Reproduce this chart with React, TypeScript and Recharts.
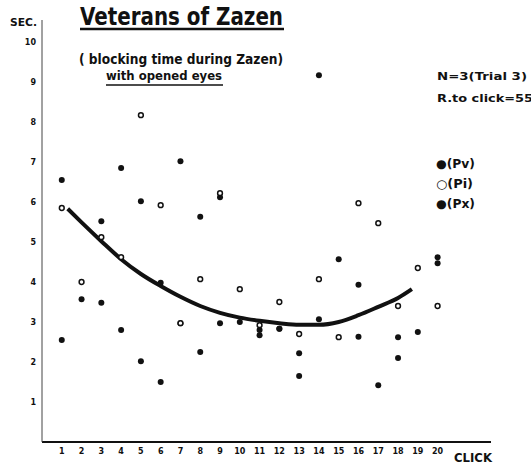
import { ScatterChart, Scatter, XAxis, YAxis } from 'recharts'

// click number (x) and blocking time in sec. (y)
const clicks = [1, 2, 3, 4, 5, 6, 7, 8, 9, 10, 11, 12, 13, 14, 15, 16, 17, 18, 19, 20]
const secTicks = [1, 2, 3, 4, 5, 6, 7, 8, 9, 10]

const pvValues = [6.55, 3.57, 5.52, 6.85, 6.02, 3.98, 7.02, 5.63, 6.12, 3.0, 2.8, 2.83, 2.22, 9.17, 4.57, 3.93, 1.42, 2.62, 2.75, 4.62]
const piValues = [5.85, 4.0, 5.12, 4.62, 8.17, 5.92, 2.97, 4.07, 6.22, 3.82, 2.92, 3.5, 2.7, 4.07, 2.62, 5.97, 5.47, 3.4, 4.35, 3.4]
const pxValues = [2.55, null, 3.48, 2.8, 2.02, 1.5, 2.97, 2.25, 2.97, null, 2.67, 2.83, 1.65, 3.07, null, 2.63, null, 2.1, null, 4.47]

// hand-drawn trend curve
const curveX = [1.3, 2, 3, 4, 5, 6, 7, 8, 9, 10, 11, 12, 13, 14, 15, 16, 17, 18, 18.7]
const curveY = [5.83, 5.49, 5.02, 4.57, 4.2, 3.9, 3.63, 3.4, 3.23, 3.11, 3.03, 2.97, 2.93, 2.93, 3.0, 3.17, 3.38, 3.6, 3.82]

const toPoints = (vals: (number | null)[]) =>
  clicks.map((c, i) => ({ x: c, y: vals[i] })).filter((p) => p.y !== null)

const pvData = toPoints(pvValues)
const piData = toPoints(piValues)
const pxData = toPoints(pxValues)
const curveData = curveX.map((x, i) => ({ x, y: curveY[i] }))

const INK = '#111'
const FONT = '"DejaVu Sans", sans-serif'

const FilledDot = (p: any) => <circle cx={p.cx} cy={p.cy} r={3} fill={INK} />
const OpenDot = (p: any) => <circle cx={p.cx} cy={p.cy} r={2.4} fill="#fff" stroke={INK} strokeWidth={1.5} />
const NoDot = () => <g />

const tickStyle = { fill: INK, fontSize: 8, fontWeight: 700, fontFamily: FONT }

export default function App() {
  return (
    <div style={{ position: 'absolute', left: 0, top: 0, width: 531, height: 464, background: '#fff' }}>
      <ScatterChart width={531} height={464} margin={{ top: 20, right: 40, bottom: 2, left: 0 }}>
        <XAxis
          type="number"
          dataKey="x"
          domain={[0, 22.7]}
          ticks={clicks}
          interval={0}
          allowDataOverflow
          height={20}
          tickLine={false}
          tickSize={0}
          tickMargin={6}
          axisLine={{ stroke: INK, strokeWidth: 2 }}
          tick={tickStyle}
        />
        <YAxis
          type="number"
          dataKey="y"
          domain={[0, 10.55]}
          ticks={secTicks}
          interval={0}
          allowDataOverflow
          width={42}
          tickLine={false}
          tickSize={0}
          tickMargin={6}
          axisLine={{ stroke: '#444', strokeWidth: 1 }}
          tick={tickStyle}
        />
        <Scatter
          data={curveData}
          line={{ stroke: INK, strokeWidth: 4 }}
          lineJointType="monotoneX"
          shape={NoDot}
          isAnimationActive={false}
        />
        <Scatter data={pvData} shape={FilledDot} isAnimationActive={false} />
        <Scatter data={pxData} shape={FilledDot} isAnimationActive={false} />
        <Scatter data={piData} shape={OpenDot} isAnimationActive={false} />
      </ScatterChart>

      <svg
        width={531}
        height={464}
        style={{ position: 'absolute', left: 0, top: 0, pointerEvents: 'none' }}
        fontFamily={FONT}
        fontWeight={700}
        fill={INK}
      >
        <text x={10} y={26} fontSize={10} textLength={27} lengthAdjust="spacingAndGlyphs">SEC.</text>

        <text x={80} y={25} fontSize={24} textLength={203} lengthAdjust="spacingAndGlyphs">Veterans of Zazen</text>
        <line x1={80} x2={284} y1={29} y2={29} stroke={INK} strokeWidth={2.5} />

        <text x={79} y={64} fontSize={14} textLength={204} lengthAdjust="spacingAndGlyphs">( blocking time during Zazen)</text>
        <text x={106} y={80} fontSize={13} textLength={116} lengthAdjust="spacingAndGlyphs">with opened eyes</text>
        <line x1={106} x2={223} y1={85} y2={85} stroke={INK} strokeWidth={1.5} />

        <text x={437} y={80} fontSize={11} textLength={90} lengthAdjust="spacingAndGlyphs">N=3(Trial 3)</text>
        <text x={437} y={102} fontSize={11} textLength={96} lengthAdjust="spacingAndGlyphs">R.to click=55</text>

        <text x={436} y={168} fontSize={12} textLength={39} lengthAdjust="spacingAndGlyphs">●(Pv)</text>
        <text x={436} y={188} fontSize={12} textLength={37} lengthAdjust="spacingAndGlyphs">○(Pi)</text>
        <text x={436} y={208} fontSize={12} textLength={39} lengthAdjust="spacingAndGlyphs">●(Px)</text>

        <text x={454} y={462} fontSize={13} textLength={38} lengthAdjust="spacingAndGlyphs">CLICK</text>
      </svg>
    </div>
  )
}
